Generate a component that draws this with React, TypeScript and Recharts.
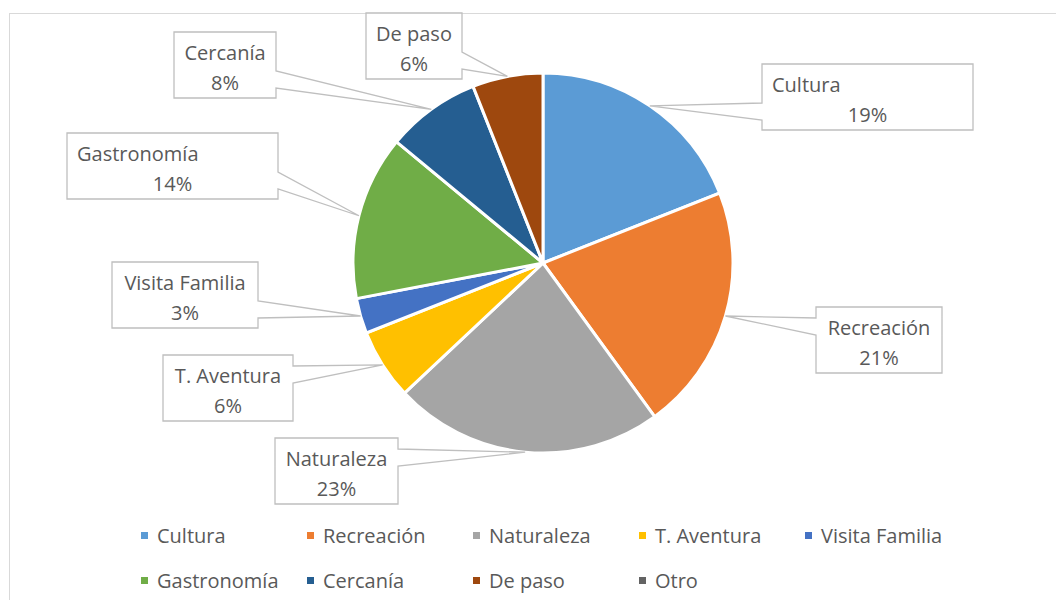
import { PieChart, Pie, Cell, Legend } from "recharts";

const CATEGORIES = [
  "Cultura", "Recreación", "Naturaleza", "T. Aventura", "Visita Familia",
  "Gastronomía", "Cercanía", "De paso", "Otro",
];
const SHARES = [19, 21, 23, 6, 3, 14, 8, 6, 0];

const COLORS = [
  "#5b9bd5", "#ed7d31", "#a5a5a5", "#ffc000", "#4472c4",
  "#70ad47", "#255e91", "#9e480e", "#636363",
];

// callout boxes, offsets from the pie centre
const BOXES = [
  { dx: 219, dy: -199, w: 211, left: true },
  { dx: 273, dy: 44, w: 126 },
  { dx: -268, dy: 175, w: 123 },
  { dx: -380, dy: 92, w: 130 },
  { dx: -431, dy: -1, w: 146 },
  { dx: -476, dy: -130, w: 211, left: true },
  { dx: -369, dy: -231, w: 102 },
  { dx: -177, dy: -250, w: 96 },
  null,
];

const FONT = "'Open Sans', sans-serif";
const TEXT = "#595959";
const BOX_H = 66;
const RAD = Math.PI / 180;

const data = CATEGORIES.map((name, i) => ({ name, value: SHARES[i] }));

function Callout(props: any) {
  const { cx, cy, midAngle, outerRadius, index, name, percent, value } = props;
  const box = BOXES[index];
  if (!box || !value) return null;
  const px = cx + outerRadius * Math.cos(-midAngle * RAD);
  const py = cy + outerRadius * Math.sin(-midAngle * RAD);
  const x0 = cx + box.dx;
  const y0 = cy + box.dy;
  const x1 = x0 + box.w;
  const y1 = y0 + BOX_H;
  const upper = py < y0 + BOX_H / 2;
  const b1 = upper ? y0 + 11 : y0 + 39;
  const b2 = upper ? y0 + 28 : y0 + 56;
  let d: string;
  if (px > x1) {
    d = `M${x0},${y0}L${x1},${y0}L${x1},${b1}L${px},${py}L${x1},${b2}L${x1},${y1}L${x0},${y1}Z`;
  } else {
    d = `M${x0},${y0}L${x1},${y0}L${x1},${y1}L${x0},${y1}L${x0},${b2}L${px},${py}L${x0},${b1}Z`;
  }
  const mid = (x0 + x1) / 2;
  return (
    <g>
      <path d={d} fill="#fff" stroke="#bfbfbf" strokeWidth={1.3} />
      <text
        x={box.left ? x0 + 10 : mid}
        y={y0 + 20}
        textAnchor={box.left ? "start" : "middle"}
        dominantBaseline="central"
        fontSize={20}
        fontFamily={FONT}
        fill={TEXT}
      >
        {name}
      </text>
      <text x={mid} y={y0 + 50} textAnchor="middle" dominantBaseline="central" fontSize={20} fontFamily={FONT} fill={TEXT}>
        {Math.round(percent * 100)}%
      </text>
    </g>
  );
}

function LegendGrid() {
  return (
    <div
      style={{
        display: "grid",
        gridTemplateColumns: "repeat(5, 166px)",
        paddingLeft: 133,
        fontFamily: FONT,
        fontSize: 20,
        color: TEXT,
      }}
    >
      {CATEGORIES.map((c, i) => (
        <div key={c} style={{ display: "flex", alignItems: "center", height: 45, whiteSpace: "nowrap" }}>
          <span style={{ width: 7, height: 7, background: COLORS[i], marginRight: 9, flexShrink: 0 }} />
          <span>{c}</span>
        </div>
      ))}
    </div>
  );
}

export default function App() {
  return (
    <div style={{ position: "relative", width: 1056, height: 592, overflow: "hidden", background: "#fff" }}>
      <div
        style={{
          position: "absolute",
          left: 1,
          top: 5,
          width: 1100,
          height: 700,
          border: "1px solid #d9d9d9",
        }}
      />
      <div style={{ position: "absolute", left: 0, top: 0 }}>
        <PieChart width={1056} height={592} margin={{ top: 0, right: 0, bottom: 0, left: 0 }}>
          <Pie
            data={data}
            dataKey="value"
            nameKey="name"
            cx={535}
            cy={255}
            outerRadius={190}
            startAngle={90}
            endAngle={-270}
            stroke="#fff"
            strokeWidth={3}
            labelLine={false}
            label={Callout}
            isAnimationActive={false}
          >
            {data.map((d, i) => (
              <Cell key={d.name} fill={COLORS[i]} />
            ))}
          </Pie>
          <Legend content={() => <LegendGrid />} wrapperStyle={{ left: 0, top: 505, width: 1056 }} />
        </PieChart>
      </div>
    </div>
  );
}
